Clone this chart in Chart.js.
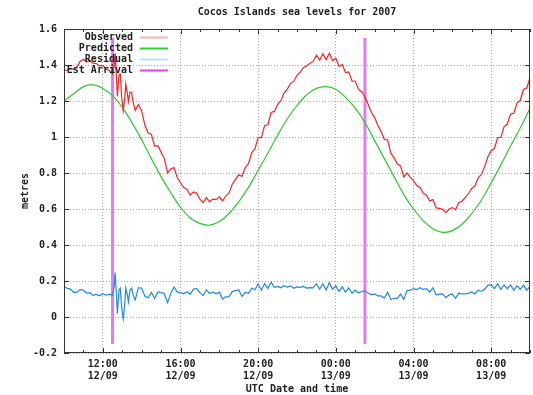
<!DOCTYPE html>
<html>
<head>
<meta charset="utf-8">
<script src="https://cdn.jsdelivr.net/npm/chart.js@4"></script>
<style>
  html, body { margin: 0; padding: 0; background: #fff; }
  #c { display: block; }
</style>
</head>
<body>
<canvas id="c" width="533" height="395"></canvas>
<script>
// minutes after 10:00 UTC on 12/09
const predTimes = [0,30,60,90,120,150,180,210,240,270,300,330,360,390,420,450,480,510,540,570,600,630,660,690,720,750,780,810,840,870,900,930,960,990,1020,1050,1080,1110,1140,1170,1200,1230,1260,1290,1320,1350,1380,1410,1440];
const predicted = [1.20,1.24,1.28,1.29,1.27,1.23,1.165,1.08,0.985,0.88,0.78,0.69,0.61,0.55,0.52,0.51,0.53,0.575,0.64,0.72,0.815,0.91,1.01,1.10,1.175,1.235,1.27,1.28,1.265,1.22,1.16,1.08,0.98,0.88,0.78,0.68,0.60,0.535,0.49,0.47,0.48,0.515,0.575,0.65,0.745,0.845,0.95,1.05,1.16];

const obsTimes = [0,10,20,30,40,50,60,70,80,90,100,110,120,130,140,150,
  155,158,162,165,170,174,178,183,188,191,196,199,204,209,214,220,
  230,240,250,260,270,280,290,300,310,320,330,340,350,360,370,380,390,400,410,420,430,440,450,460,470,480,490,500,510,520,530,540,550,560,570,580,590,600,
  610,620,630,640,650,660,670,680,690,700,710,720,730,740,750,760,770,780,790,800,810,820,830,840,850,860,870,880,890,900,910,920,930,940,950,960,970,980,990,1000,
  1010,1020,1030,1040,1050,1060,1070,1080,1090,1100,1110,1120,1130,1140,1150,1160,1170,1180,1190,1200,1210,1220,1230,1240,1250,1260,1270,1280,1290,1300,
  1310,1320,1330,1340,1350,1360,1370,1380,1390,1400,1410,1420,1430,1440];
const observed = [1.37,1.372,1.38,1.376,1.39,1.42,1.432,1.418,1.425,1.41,1.408,1.395,1.398,1.378,1.37,1.35,
  1.39,1.465,1.33,1.225,1.345,1.35,1.226,1.147,1.22,1.294,1.24,1.196,1.25,1.247,1.19,1.148,
  1.18,1.145,1.065,1.022,1.016,0.95,0.952,0.916,0.88,0.80,0.822,0.83,0.775,0.746,0.719,0.71,0.676,0.695,0.688,0.655,0.636,0.664,0.64,0.655,0.652,0.668,0.645,0.672,0.688,0.738,0.765,0.79,0.781,0.83,0.852,0.912,0.934,0.998,
  0.996,1.064,1.068,1.136,1.142,1.18,1.202,1.244,1.266,1.298,1.31,1.342,1.36,1.385,1.396,1.41,1.42,1.455,1.428,1.462,1.43,1.466,1.424,1.438,1.392,1.402,1.358,1.362,1.312,1.31,1.266,1.25,1.224,1.18,1.136,1.108,1.064,1.03,0.986,0.984,
  0.91,0.884,0.85,0.84,0.778,0.80,0.776,0.758,0.73,0.72,0.688,0.678,0.644,0.652,0.606,0.604,0.598,0.58,0.60,0.608,0.596,0.636,0.643,0.664,0.686,0.714,0.728,0.774,0.792,0.836,
  0.89,0.924,0.936,0.996,0.998,1.058,1.072,1.128,1.132,1.19,1.204,1.264,1.272,1.33];
const residual = [0.17,0.159,0.155,0.136,0.138,0.152,0.15,0.133,0.135,0.12,0.125,0.118,0.129,0.121,0.127,0.12,
  0.17,0.247,0.12,0.02,0.15,0.16,0.056,-0.01,0.08,0.16,0.12,0.084,0.15,0.16,0.12,0.095,
  0.163,0.16,0.115,0.107,0.136,0.103,0.139,0.136,0.13,0.08,0.132,0.167,0.138,0.136,0.129,0.14,0.126,0.155,0.158,0.135,0.119,0.151,0.13,0.138,0.129,0.138,0.10,0.112,0.113,0.141,0.147,0.15,0.114,0.137,0.132,0.16,0.151,0.183,
  0.149,0.186,0.158,0.193,0.165,0.17,0.162,0.174,0.166,0.173,0.16,0.167,0.165,0.17,0.161,0.163,0.162,0.185,0.155,0.185,0.15,0.191,0.154,0.173,0.142,0.167,0.138,0.162,0.132,0.15,0.133,0.143,0.144,0.133,0.123,0.128,0.117,0.117,0.106,0.137,
  0.097,0.104,0.103,0.127,0.098,0.147,0.149,0.158,0.152,0.163,0.153,0.158,0.139,0.162,0.123,0.127,0.128,0.107,0.123,0.128,0.104,0.133,0.128,0.129,0.131,0.139,0.128,0.149,0.142,0.154,
  0.177,0.179,0.158,0.184,0.153,0.178,0.157,0.178,0.149,0.173,0.154,0.177,0.149,0.17];

// estimated tsunami arrival times, drawn as vertical markers
const arrivalTimes = [150, 930];
const arrivalSpan = [-0.15, 1.55];

const xTickValues = [120, 360, 600, 840, 1080, 1320];
const xTickLabels = [['12:00','12/09'],['16:00','12/09'],['20:00','12/09'],['00:00','13/09'],['04:00','13/09'],['08:00','13/09']];
const yTickValues = [-0.2, 0, 0.2, 0.4, 0.6, 0.8, 1, 1.2, 1.4, 1.6];

const legendColors = ['#ffb0b0', '#33cc33', '#b8e0ff', '#e040f0'];

const zip = (xs, ys) => xs.map((x, i) => ({x: x, y: ys[i]}));
const arrivalPts = [];
arrivalTimes.forEach((t, i) => {
  if (i > 0) arrivalPts.push({x: t, y: null});
  arrivalPts.push({x: t, y: arrivalSpan[0]}, {x: t, y: arrivalSpan[1]});
});

const MONO = "'DejaVu Sans Mono', monospace";
Chart.defaults.font.family = MONO;
Chart.defaults.font.size = 10;
Chart.defaults.font.weight = 'bold';
Chart.defaults.color = '#222';

// gnuplot style frame, inward ticks and legend
const gnuFrame = {
  id: 'gnuFrame',
  afterDatasetsDraw(chart) {
    const {ctx, chartArea: a, scales: {x, y}} = chart;
    ctx.save();
    ctx.strokeStyle = '#333';
    ctx.lineWidth = 1;
    ctx.strokeRect(a.left + 0.5, a.top + 0.5, a.right - a.left - 1, a.bottom - a.top - 1);
    ctx.beginPath();
    for (let m = 0; m <= 1440; m += 60) {
      const px = Math.round(x.getPixelForValue(m)) + 0.5;
      const len = xTickValues.includes(m) ? 5 : 3;
      ctx.moveTo(px, a.bottom); ctx.lineTo(px, a.bottom - len);
      ctx.moveTo(px, a.top); ctx.lineTo(px, a.top + len);
    }
    yTickValues.forEach(v => {
      const py = Math.round(y.getPixelForValue(v)) + 0.5;
      ctx.moveTo(a.left, py); ctx.lineTo(a.left + 5, py);
      ctx.moveTo(a.right, py); ctx.lineTo(a.right - 5, py);
    });
    ctx.stroke();

    // legend, text right aligned with a line sample after it
    ctx.font = 'bold 10px ' + MONO;
    ctx.textAlign = 'right';
    ctx.textBaseline = 'middle';
    chart.data.datasets.forEach((ds, i) => {
      const ly = a.top + 8 + i * 11;
      ctx.fillStyle = '#222';
      ctx.fillText(ds.label, a.left + 69, ly);
      ctx.strokeStyle = legendColors[i];
      ctx.lineWidth = 2;
      ctx.beginPath();
      ctx.moveTo(a.left + 76, ly + 0.5);
      ctx.lineTo(a.left + 104, ly + 0.5);
      ctx.stroke();
    });
    ctx.restore();
  }
};

new Chart(document.getElementById('c'), {
  type: 'line',
  data: {
    datasets: [
      { label: 'Observed', data: zip(obsTimes, observed), borderColor: '#ff2020', borderWidth: 1.2 },
      { label: 'Predicted', data: zip(predTimes, predicted), borderColor: '#2ec82e', borderWidth: 1.2, tension: 0.4 },
      { label: 'Residual', data: zip(obsTimes, residual), borderColor: '#1e86f5', borderWidth: 1.2 },
      { label: 'Est Arrival', data: arrivalPts, borderColor: '#e47af2', borderWidth: 3, spanGaps: false }
    ]
  },
  options: {
    responsive: false,
    animation: false,
    devicePixelRatio: 1,
    layout: { padding: { left: 0, right: 3, top: 0, bottom: 0 } },
    elements: { point: { radius: 0 }, line: { fill: false } },
    plugins: {
      legend: { display: false },
      tooltip: { enabled: false },
      title: {
        display: true,
        text: 'Cocos Islands sea levels for 2007',
        fullSize: false,
        font: { size: 10, weight: 'bold', lineHeight: 1.2 },
        color: '#222',
        padding: { top: 6, bottom: 11 }
      }
    },
    scales: {
      x: {
        type: 'linear',
        min: 0,
        max: 1440,
        afterBuildTicks: s => { s.ticks = xTickValues.map(v => ({value: v})); },
        afterFit: s => { s.height = 42; },
        ticks: {
          autoSkip: false,
          maxRotation: 0,
          padding: 5,
          callback: (v, i) => xTickLabels[i]
        },
        grid: { color: '#aaa', drawTicks: false },
        border: { display: false, dash: [1, 2] },
        title: { display: true, text: 'UTC Date and time', padding: { top: 0, bottom: 0 } }
      },
      y: {
        min: -0.2,
        max: 1.6,
        afterBuildTicks: s => { s.ticks = yTickValues.map(v => ({value: v})); },
        afterFit: s => { s.width = 64; },
        ticks: {
          padding: 7,
          callback: v => String(v)
        },
        grid: { color: '#aaa', drawTicks: false },
        border: { display: false, dash: [1, 2] },
        title: { display: true, text: 'metres', padding: { top: 19, bottom: 0 } }
      }
    }
  },
  plugins: [gnuFrame]
});
</script>
</body>
</html>
